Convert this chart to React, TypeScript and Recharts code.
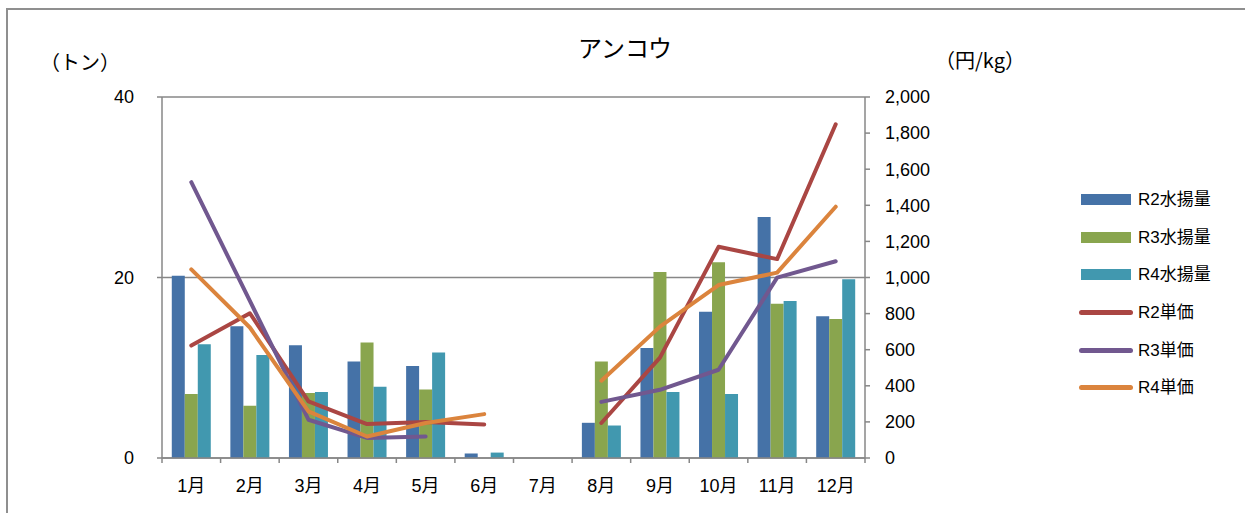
import React from 'react';
import { ComposedChart, Bar, Line, XAxis, YAxis, CartesianGrid } from 'recharts';

const months = ['1月', '2月', '3月', '4月', '5月', '6月', '7月', '8月', '9月', '10月', '11月', '12月'];
const r2Catch = [20.2, 14.6, 12.5, 10.7, 10.2, 0.5, null, 3.9, 12.2, 16.2, 26.7, 15.7];
const r3Catch = [7.1, 5.8, 7.2, 12.8, 7.6, null, null, 10.7, 20.6, 21.7, 17.1, 15.4];
const r4Catch = [12.6, 11.4, 7.3, 7.9, 11.7, 0.6, null, 3.6, 7.3, 7.1, 17.4, 19.8];
const r2Price = [623, 802, 314, 188, 199, 186, null, 194, 556, 1170, 1102, 1849];
const r3Price = [1528, 870, 212, 111, 119, null, null, 311, 378, 489, 999, 1090];
const r4Price = [1045, 723, 258, 119, 194, 243, null, 428, 728, 958, 1027, 1392];
const leftTicks = [0, 20, 40];
const rightTicks = [0, 200, 400, 600, 800, 1000, 1200, 1400, 1600, 1800, 2000];

const COLORS = {
  r2c: '#4572A7',
  r3c: '#89A54E',
  r4c: '#4198AF',
  r2p: '#AA4643',
  r3p: '#71588F',
  r4p: '#DB843D',
};

const data = months.map((m, i) => ({
  month: m,
  r2c: r2Catch[i],
  r3c: r3Catch[i],
  r4c: r4Catch[i],
  r2p: r2Price[i],
  r3p: r3Price[i],
  r4p: r4Price[i],
}));

const legendItems = [
  { name: 'R2水揚量', color: COLORS.r2c, type: 'bar' },
  { name: 'R3水揚量', color: COLORS.r3c, type: 'bar' },
  { name: 'R4水揚量', color: COLORS.r4c, type: 'bar' },
  { name: 'R2単価', color: COLORS.r2p, type: 'line' },
  { name: 'R3単価', color: COLORS.r3p, type: 'line' },
  { name: 'R4単価', color: COLORS.r4p, type: 'line' },
];

const FONT = '"Liberation Sans", "Noto Sans CJK JP", sans-serif';
const CJK = '"Noto Sans CJK JP", "Liberation Sans", sans-serif';
const AX = '#878787';
const tickStyle = { fontSize: 18, fill: '#000', fontFamily: FONT };
const X_TICK_SIZE = 5;
const X_TICK_MARGIN = 16;

const fmt = (v: number) => v.toLocaleString('en-US');

const MonthTick = (props: any) => {
  const { x, y, payload, index, visibleTicksCount } = props;
  const half = payload && payload.offset ? payload.offset : 0;
  const axisY = y - X_TICK_SIZE - X_TICK_MARGIN;
  const isLast = index === (visibleTicksCount ?? months.length) - 1;
  return (
    <g>
      <line x1={x - half} x2={x - half} y1={axisY} y2={axisY + X_TICK_SIZE} stroke={AX} strokeWidth={1.5} />
      {isLast && <line x1={x + half} x2={x + half} y1={axisY} y2={axisY + X_TICK_SIZE} stroke={AX} strokeWidth={1.5} />}
      <text x={x} y={y} dy="0.71em" textAnchor="middle" fontSize={18} fontFamily={FONT} fill="#000">
        {payload.value}
      </text>
    </g>
  );
};

export default function App() {
  return (
    <div style={{ position: 'absolute', left: 0, top: 0, width: 1245, height: 513, background: '#fff', overflow: 'hidden' }}>
      <div
        style={{
          position: 'absolute',
          left: 6,
          top: 8,
          width: 1260,
          height: 520,
          borderTop: '2px solid #8f8f8f',
          borderLeft: '2px solid #8f8f8f',
        }}
      />
      <div style={{ position: 'absolute', left: 0, top: 0 }}>
        <ComposedChart
          width={1245}
          height={513}
          data={data}
          margin={{ top: 97, right: 320, bottom: 25, left: 102 }}
          barCategoryGap="16.7%"
          barGap={0}
        >
          <CartesianGrid yAxisId="left" vertical={false} stroke={AX} strokeWidth={1.5} />
          <XAxis
            dataKey="month"
            height={30}
            tick={<MonthTick />}
            tickSize={X_TICK_SIZE}
            tickMargin={X_TICK_MARGIN}
            axisLine={{ stroke: AX, strokeWidth: 1.5 }}
            tickLine={false}
            interval={0}
          />
          <YAxis
            yAxisId="left"
            orientation="left"
            width={60}
            domain={[0, 40]}
            ticks={leftTicks}
            tick={tickStyle}
            tickSize={5}
            tickMargin={23}
            axisLine={{ stroke: AX, strokeWidth: 1.5 }}
            tickLine={{ stroke: AX, strokeWidth: 1.5 }}
            allowDataOverflow
          />
          <YAxis
            yAxisId="right"
            orientation="right"
            width={60}
            domain={[0, 2000]}
            ticks={rightTicks}
            tick={tickStyle}
            tickSize={5}
            tickMargin={15}
            tickFormatter={fmt}
            axisLine={{ stroke: AX, strokeWidth: 1.5 }}
            tickLine={{ stroke: AX, strokeWidth: 1.5 }}
            allowDataOverflow
          />
          <Bar yAxisId="left" dataKey="r2c" name="R2水揚量" fill={COLORS.r2c} isAnimationActive={false} />
          <Bar yAxisId="left" dataKey="r3c" name="R3水揚量" fill={COLORS.r3c} isAnimationActive={false} />
          <Bar yAxisId="left" dataKey="r4c" name="R4水揚量" fill={COLORS.r4c} isAnimationActive={false} />
          <Line yAxisId="right" dataKey="r2p" name="R2単価" stroke={COLORS.r2p} strokeWidth={4} strokeLinecap="round" strokeLinejoin="round" dot={false} activeDot={false} isAnimationActive={false} />
          <Line yAxisId="right" dataKey="r3p" name="R3単価" stroke={COLORS.r3p} strokeWidth={4} strokeLinecap="round" strokeLinejoin="round" dot={false} activeDot={false} isAnimationActive={false} />
          <Line yAxisId="right" dataKey="r4p" name="R4単価" stroke={COLORS.r4p} strokeWidth={4} strokeLinecap="round" strokeLinejoin="round" dot={false} activeDot={false} isAnimationActive={false} />
        </ComposedChart>
      </div>
      <svg width={1245} height={513} style={{ position: 'absolute', left: 0, top: 0, pointerEvents: 'none' }}>
        <text x={625} y={57} textAnchor="middle" fontSize={24} fontFamily={CJK} fill="#000">アンコウ</text>
        <text x={80} y={70} textAnchor="middle" fontSize={20} fontFamily={CJK} fill="#000">（トン）</text>
        <text x={980} y={68} textAnchor="middle" fontSize={20} fontFamily={CJK} fill="#000">（円/kg）</text>
      </svg>
      <div style={{ position: 'absolute', left: 1078, top: 181 }}>
        {legendItems.map((it) => (
          <div key={it.name} style={{ display: 'flex', alignItems: 'center', height: 37.6 }}>
            <div style={{ width: 56, height: 12, display: 'flex', alignItems: 'center', justifyContent: 'center' }}>
              {it.type === 'bar' ? (
                <div style={{ width: 50, height: 11, background: it.color }} />
              ) : (
                <div style={{ width: 54, height: 5, borderRadius: 3, background: it.color }} />
              )}
            </div>
            <span style={{ marginLeft: 4, fontSize: 17, fontFamily: FONT, color: '#000', whiteSpace: 'nowrap', lineHeight: 1 }}>{it.name}</span>
          </div>
        ))}
      </div>
    </div>
  );
}
